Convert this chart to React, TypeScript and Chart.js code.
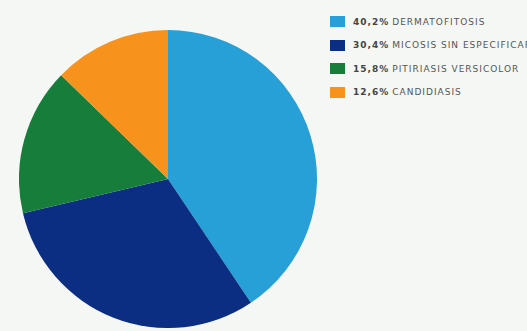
import React, { useEffect, useRef } from "react";
import { Chart, registerables } from "chart.js";

Chart.register(...registerables);

const categories = ["DERMATOFITOSIS", "MICOSIS SIN ESPECIFICAR", "PITIRIASIS VERSICOLOR", "CANDIDIASIS"];
const percentLabels = ["40,2%", "30,4%", "15,8%", "12,6%"];
const values = [40.2, 30.4, 15.8, 12.6];
const colors = ["#279fd7", "#0b2d82", "#167d3b", "#f7931c"];

export default function App() {
  const ref = useRef<HTMLCanvasElement | null>(null);
  useEffect(() => {
    if (!ref.current) return;
    const chart = new Chart(ref.current, {
      type: "pie",
      data: {
        labels: categories,
        datasets: [
          {
            data: values,
            backgroundColor: colors,
            borderWidth: 0,
          },
        ],
      },
      options: {
        animation: false,
        responsive: false,
        maintainAspectRatio: false,
        layout: { padding: 0 },
        plugins: { legend: { display: false }, tooltip: { enabled: false } },
      },
    });
    return () => chart.destroy();
  }, []);

  return (
    <div
      style={{
        position: "fixed",
        left: 0,
        top: 0,
        width: 527,
        height: 331,
        background: "#f4f7f3",
        overflow: "hidden",
      }}
    >
      <canvas
        ref={ref}
        width={298}
        height={298}
        style={{ position: "absolute", left: 19, top: 30, width: 298, height: 298 }}
      />
      <div style={{ position: "absolute", left: 330, top: 10 }}>
        {categories.map((c, i) => (
          <div
            key={c}
            style={{
              display: "flex",
              alignItems: "center",
              height: 23.5,
              whiteSpace: "nowrap",
              fontFamily: "'DejaVu Sans', Verdana, sans-serif",
              fontSize: 9,
              letterSpacing: 1,
              color: "#555555",
            }}
          >
            <span
              style={{
                display: "inline-block",
                width: 15,
                height: 11,
                background: colors[i],
                marginRight: 8,
                flexShrink: 0,
              }}
            />
            <span style={{ fontWeight: "bold", marginRight: 3, color: "#444444" }}>{percentLabels[i]}</span>
            <span>{c}</span>
          </div>
        ))}
      </div>
    </div>
  );
}
